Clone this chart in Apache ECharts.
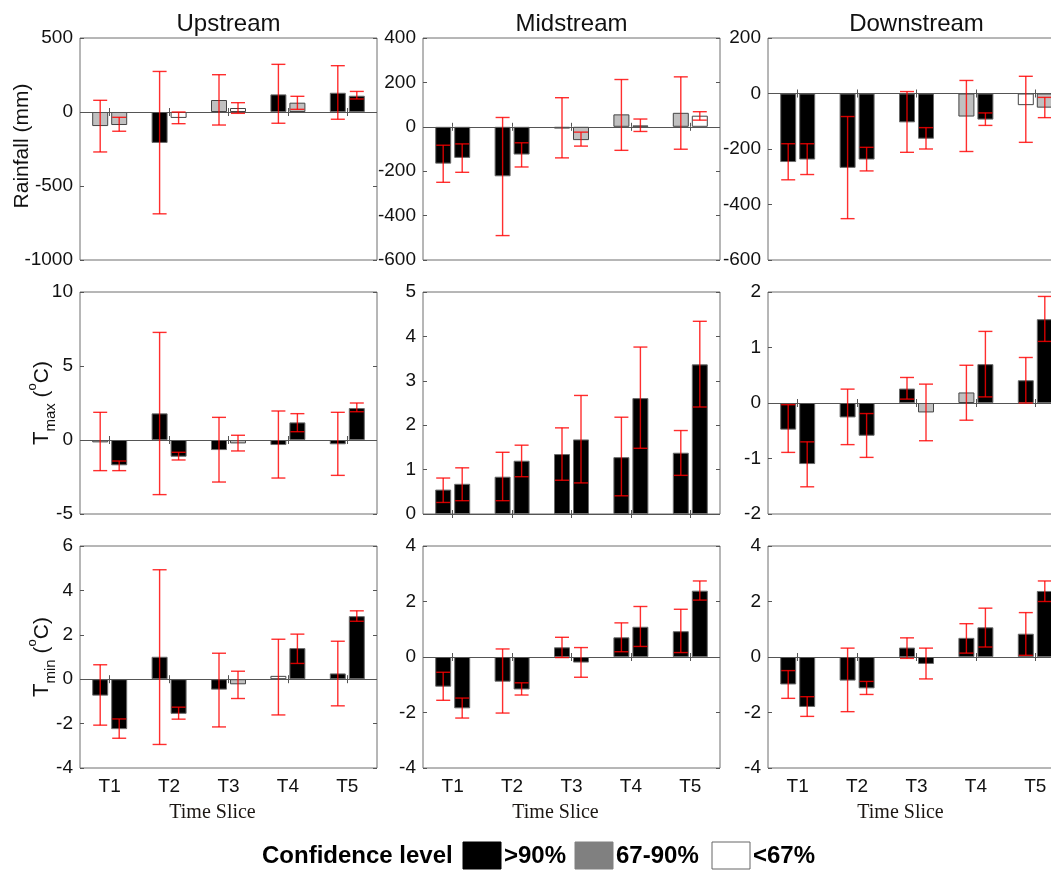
<!DOCTYPE html>
<html>
<head>
<meta charset="utf-8">
<script src="https://cdn.jsdelivr.net/npm/echarts@6/dist/echarts.min.js"></script>
<style>
  html, body { margin: 0; padding: 0; background: #fff; }
  #chart { width: 1051px; height: 870px; }
</style>
</head>
<body>
<div id="chart"></div>
<script>
// ---------------- DATA ----------------
const categories = ['T1', 'T2', 'T3', 'T4', 'T5'];
const regions = ['Upstream', 'Midstream', 'Downstream'];
// confidence classes: h = >90%, m = 67-90%, l = <67%

// Rainfall (mm)
const rainUpMean = [[-95, -88], [-209, -40], [81, 27], [119, 63], [130, 110]];
const rainUpLow  = [[-270, -130], [-688, -79], [-88, -9], [-76, 18], [-49, 88]];
const rainUpHigh = [[79, -36], [274, 0], [252, 63], [322, 106], [313, 139]];
const rainUpConf = [['m', 'm'], ['h', 'l'], ['m', 'l'], ['h', 'm'], ['h', 'h']];

const rainMidMean = [[-166, -140], [-223, -125], [-8, -60], [56, 6], [63, 50]];
const rainMidLow  = [[-250, -205], [-490, -181], [-140, -87], [-106, -21], [-101, 30]];
const rainMidHigh = [[-83, -77], [42, -72], [131, -24], [213, 35], [225, 68]];
const rainMidConf = [['h', 'h'], ['h', 'h'], ['m', 'm'], ['m', 'm'], ['m', 'l']];

const rainDownMean = [[-247, -238], [-268, -238], [-104, -163], [-83, -94], [-42, -51]];
const rainDownLow  = [[-311, -292], [-451, -279], [-212, -200], [-209, -115], [-176, -87]];
const rainDownHigh = [[-181, -181], [-83, -194], [7, -123], [47, -70], [62, -14]];
const rainDownConf = [['h', 'h'], ['h', 'h'], ['h', 'h'], ['m', 'h'], ['l', 'm']];

// Tmax (°C)
const tmaxUpMean = [[-0.16, -1.71], [1.80, -1.13], [-0.68, -0.23], [-0.34, 1.19], [-0.29, 2.16]];
const tmaxUpLow  = [[-2.07, -2.07], [-3.69, -1.35], [-2.84, -0.74], [-2.57, 0.56], [-2.39, 1.91]];
const tmaxUpHigh = [[1.87, -1.42], [7.27, -0.83], [1.53, 0.32], [1.96, 1.78], [1.87, 2.50]];
const tmaxUpConf = [['m', 'h'], ['h', 'h'], ['h', 'm'], ['h', 'h'], ['h', 'h']];

const tmaxMidMean = [[0.55, 0.68], [0.84, 1.20], [1.35, 1.68], [1.28, 2.61], [1.38, 3.37]];
const tmaxMidLow  = [[0.26, 0.30], [0.30, 0.84], [0.76, 0.70], [0.41, 1.48], [0.87, 2.41]];
const tmaxMidHigh = [[0.81, 1.04], [1.39, 1.55], [1.94, 2.67], [2.18, 3.76], [1.88, 4.34]];
const tmaxMidConf = [['h', 'h'], ['h', 'h'], ['h', 'h'], ['h', 'h'], ['h', 'h']];

const tmaxDownMean = [[-0.48, -1.10], [-0.26, -0.59], [0.26, -0.17], [0.19, 0.70], [0.41, 1.51]];
const tmaxDownLow  = [[-0.89, -1.51], [-0.75, -0.98], [0.07, -0.68], [-0.31, 0.11], [0.0, 1.11]];
const tmaxDownHigh = [[-0.03, -0.70], [0.25, -0.19], [0.46, 0.34], [0.68, 1.29], [0.82, 1.92]];
const tmaxDownConf = [['h', 'h'], ['h', 'h'], ['h', 'm'], ['m', 'h'], ['h', 'h']];

// Tmin (°C)
const tminUpMean = [[-0.74, -2.25], [1.01, -1.56], [-0.47, -0.23], [0.15, 1.40], [0.26, 2.84]];
const tminUpLow  = [[-2.07, -2.66], [-2.94, -1.80], [-2.15, -0.87], [-1.61, 0.71], [-1.20, 2.61]];
const tminUpHigh = [[0.65, -1.79], [4.93, -1.26], [1.17, 0.36], [1.80, 2.03], [1.71, 3.08]];
const tminUpConf = [['h', 'h'], ['h', 'h'], ['h', 'm'], ['l', 'h'], ['h', 'h']];

const tminMidMean = [[-1.07, -1.85], [-0.89, -1.17], [0.35, -0.20], [0.71, 1.09], [0.93, 2.39]];
const tminMidLow  = [[-1.56, -2.20], [-2.02, -1.37], [-0.02, -0.73], [0.19, 0.38], [0.16, 2.05]];
const tminMidHigh = [[-0.55, -1.48], [0.29, -0.93], [0.71, 0.34], [1.23, 1.82], [1.72, 2.74]];
const tminMidConf = [['h', 'h'], ['h', 'h'], ['h', 'h'], ['h', 'h'], ['h', 'h']];

const tminDownMean = [[-0.99, -1.80], [-0.85, -1.13], [0.34, -0.25], [0.69, 1.07], [0.84, 2.38]];
const tminDownLow  = [[-1.49, -2.14], [-1.97, -1.35], [-0.05, -0.79], [0.14, 0.36], [0.06, 2.00]];
const tminDownHigh = [[-0.49, -1.43], [0.32, -0.88], [0.69, 0.32], [1.20, 1.76], [1.60, 2.74]];
const tminDownConf = [['h', 'h'], ['h', 'h'], ['h', 'h'], ['h', 'h'], ['h', 'h']];

// y-axis ticks per panel: [min, max, interval]
const rainAxis = [[-1000, 500, 500], [-600, 400, 200], [-600, 200, 200]];
const tmaxAxis = [[-5, 10, 5], [0, 5, 1], [-2, 2, 1]];
const tminAxis = [[-4, 6, 2], [-4, 4, 2], [-4, 4, 2]];

const legendLabels = ['>90%', '67-90%', '<67%'];

// ---------------- LAYOUT / STYLE ----------------
const colLeft = [80, 423, 768];
const rowTop = [38, 292, 546];
const PW = 297, PH = 222;
const BAR_W = 16, BAR_GAP = 3;
const SANS = "'Liberation Sans', Arial, Helvetica, sans-serif";
const SERIF = "'Liberation Serif', 'Times New Roman', serif";
const confFill = { h: '#000000', m: '#c0c0c0', l: '#ffffff' };
const confBorder = { h: '#6a6a6a', m: '#444444', l: '#444444' };

const rows = [
  { mean: [rainUpMean, rainMidMean, rainDownMean], low: [rainUpLow, rainMidLow, rainDownLow],
    high: [rainUpHigh, rainMidHigh, rainDownHigh], conf: [rainUpConf, rainMidConf, rainDownConf], axis: rainAxis },
  { mean: [tmaxUpMean, tmaxMidMean, tmaxDownMean], low: [tmaxUpLow, tmaxMidLow, tmaxDownLow],
    high: [tmaxUpHigh, tmaxMidHigh, tmaxDownHigh], conf: [tmaxUpConf, tmaxMidConf, tmaxDownConf], axis: tmaxAxis },
  { mean: [tminUpMean, tminMidMean, tminDownMean], low: [tminUpLow, tminMidLow, tminDownLow],
    high: [tminUpHigh, tminMidHigh, tminDownHigh], conf: [tminUpConf, tminMidConf, tminDownConf], axis: tminAxis }
];

const grid = [], xAxis = [], yAxis = [], series = [];

function errRender(params, api) {
  const ci = api.value(0), lo = api.value(1), hi = api.value(2), bi = api.value(3);
  const pHi = api.coord([ci, hi]);
  const pLo = api.coord([ci, lo]);
  const off = (bi === 0 ? -1 : 1) * (BAR_W + BAR_GAP) / 2;
  const x = pHi[0] + off;
  const cap = 7;
  const st = { stroke: 'rgba(255,0,0,0.82)', lineWidth: 1.4 };
  return {
    type: 'group',
    children: [
      { type: 'line', shape: { x1: x, y1: pHi[1], x2: x, y2: pLo[1] }, style: st },
      { type: 'line', shape: { x1: x - cap, y1: pHi[1], x2: x + cap, y2: pHi[1] }, style: st },
      { type: 'line', shape: { x1: x - cap, y1: pLo[1], x2: x + cap, y2: pLo[1] }, style: st }
    ]
  };
}

let g = 0;
rows.forEach((row, r) => {
  for (let c = 0; c < 3; c++) {
    const [ymin, ymax, yint] = row.axis[c];
    grid.push({ left: colLeft[c], top: rowTop[r], width: PW, height: PH,
      outerBoundsMode: 'none', containLabel: false,
      show: true, borderColor: '#6e6e6e', borderWidth: 1, backgroundColor: 'transparent' });
    const tick = { show: true, inside: true, length: 4, lineStyle: { color: '#555' } };
    xAxis.push({ type: 'category', gridIndex: g, data: categories, position: 'bottom',
      axisLine: { show: false }, axisTick: Object.assign({ alignWithLabel: true }, tick),
      axisLabel: { show: r === 2, color: '#111', fontFamily: SANS, fontSize: 19, margin: 9 } });
    xAxis.push({ type: 'category', gridIndex: g, data: categories, position: 'top',
      axisLine: { show: false }, axisTick: Object.assign({ alignWithLabel: true }, tick),
      axisLabel: { show: false } });
    yAxis.push({ type: 'value', gridIndex: g, min: ymin, max: ymax, interval: yint, position: 'left',
      axisLine: { show: false }, axisTick: tick, splitLine: { show: false },
      axisLabel: { color: '#111', fontFamily: SANS, fontSize: 19, margin: 7, formatter: v => String(v) } });
    yAxis.push({ type: 'value', gridIndex: g, min: ymin, max: ymax, interval: yint, position: 'right',
      axisLine: { show: false }, axisTick: tick, splitLine: { show: false },
      axisLabel: { show: false } });

    const mean = row.mean[c], conf = row.conf[c], low = row.low[c], high = row.high[c];
    for (let b = 0; b < 2; b++) {
      series.push({
        type: 'bar', xAxisIndex: 2 * g, yAxisIndex: 2 * g,
        barWidth: BAR_W, barGap: (BAR_GAP / BAR_W * 100) + '%',
        silent: true, animation: false,
        data: mean.map((v, i) => ({
          value: v[b],
          itemStyle: { color: confFill[conf[i][b]], borderColor: confBorder[conf[i][b]], borderWidth: 1 }
        })),
        markLine: b === 0 ? {
          silent: true, symbol: 'none', animation: false, label: { show: false },
          lineStyle: { color: '#555', width: 1, type: 'solid' },
          data: [{ yAxis: 0 }]
        } : undefined
      });
    }
    const errData = [];
    mean.forEach((v, i) => {
      for (let b = 0; b < 2; b++) errData.push([i, low[i][b], high[i][b], b]);
    });
    series.push({
      type: 'custom', xAxisIndex: 2 * g, yAxisIndex: 2 * g, silent: true, animation: false,
      renderItem: errRender, data: errData, z: 5,
      encode: { x: 0, y: [1, 2] }
    });
    g++;
  }
});

// ---------------- TEXT / LEGEND ----------------
const graphic = [];
regions.forEach((name, c) => {
  graphic.push({ type: 'text', x: colLeft[c] + PW / 2, y: 24,
    style: { text: name, font: '24px ' + SANS, fill: '#111', align: 'center', verticalAlign: 'middle' } });
  graphic.push({ type: 'text', x: colLeft[c] + PW / 2 - 16, y: 813,
    style: { text: 'Time Slice', font: '20px ' + SERIF, fill: '#1b1612', align: 'center', verticalAlign: 'middle' } });
});
graphic.push({ type: 'text', x: 22, y: rowTop[0] + PH / 2 - 3, rotation: Math.PI / 2,
  style: { text: 'Rainfall (mm)', font: '21px ' + SANS, fill: '#111', align: 'center', verticalAlign: 'middle' } });

function tempLabel(sub) {
  return {
    text: '{t|T}{s|' + sub + '}{n| (}{o|o}{n|C)}',
    align: 'center', verticalAlign: 'middle', fill: '#111',
    rich: {
      t: { fontSize: 22, fontFamily: SANS, lineHeight: 32, verticalAlign: 'middle', fill: '#111' },
      s: { fontSize: 15, fontFamily: SANS, lineHeight: 16, verticalAlign: 'bottom', fill: '#111' },
      n: { fontSize: 21, fontFamily: SANS, lineHeight: 32, verticalAlign: 'middle', fill: '#111' },
      o: { fontSize: 13, fontFamily: SANS, lineHeight: 22, verticalAlign: 'top', fill: '#111' }
    }
  };
}
graphic.push({ type: 'text', x: 42, y: rowTop[1] + PH / 2, rotation: Math.PI / 2, style: tempLabel('max') });
graphic.push({ type: 'text', x: 42, y: rowTop[2] + PH / 2, rotation: Math.PI / 2, style: tempLabel('min') });

// legend
const legY = 856;
graphic.push({ type: 'text', x: 262, y: legY,
  style: { text: 'Confidence level', font: 'bold 24px ' + SANS, fill: '#000', align: 'left', verticalAlign: 'middle' } });
const legBoxX = [463, 575, 712];
const legFill = ['#000000', '#808080', '#ffffff'];
const legStroke = ['#000000', '#808080', '#666666'];
legendLabels.forEach((lab, i) => {
  graphic.push({ type: 'rect', shape: { x: legBoxX[i], y: legY - 14, width: 38, height: 27 },
    style: { fill: legFill[i], stroke: legStroke[i], lineWidth: 1 } });
  graphic.push({ type: 'text', x: legBoxX[i] + 41, y: legY,
    style: { text: lab, font: 'bold 24px ' + SANS, fill: '#000', align: 'left', verticalAlign: 'middle' } });
});

const chart = echarts.init(document.getElementById('chart'), null, { renderer: 'canvas' });
chart.setOption({
  backgroundColor: '#ffffff',
  animation: false,
  grid, xAxis, yAxis, series, graphic
});
</script>
</body>
</html>
